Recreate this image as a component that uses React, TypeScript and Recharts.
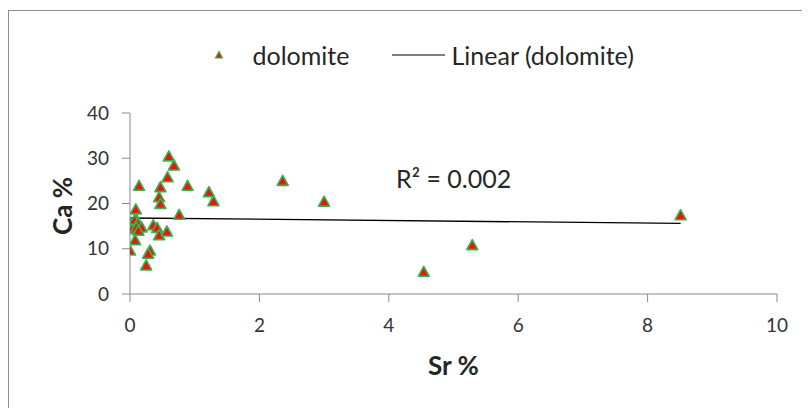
import React from 'react';
import { ScatterChart, Scatter, XAxis, YAxis, ReferenceLine, Customized } from 'recharts';

const srValues = [0.60, 0.68, 0.58, 0.14, 0.47, 0.89, 0.45, 0.47, 1.22, 1.29, 0.09, 0.76, 0.10, 0.00, 0.07, 0.12, 0.03, 0.10, 0.18, 0.13, 0.36, 0.42, 0.45, 0.57, 0.08, 0.00, 0.31, 0.28, 0.25, 2.36, 3.00, 4.54, 5.29, 8.51];
const caValues = [30.3, 28.3, 25.7, 23.8, 23.5, 23.8, 21.3, 19.8, 22.4, 20.4, 18.6, 17.4, 16.3, 15.6, 16.2, 15.5, 14.2, 14.6, 14.6, 13.9, 15.1, 14.5, 12.9, 13.7, 11.8, 9.5, 9.5, 8.8, 6.2, 24.9, 20.3, 4.8, 10.7, 17.3];
const trendX = [0, 8.51];
const trendY = [16.8, 15.6];
const xTicks = [0, 2, 4, 6, 8, 10];
const yTicks = [0, 10, 20, 30, 40];
const seriesName = 'dolomite';
const trendName = 'Linear (dolomite)';
const r2Label = 'R² = 0.002';

const points = srValues.map((x, i) => ({ x, y: caValues[i] }));

const FONT = 'Lato, "Open Sans", sans-serif';
const RED = '#e8160c';
const GREEN = '#35b54f';
const AXIS = '#8a8a8a';

const Triangle = (props: any) => {
  const { cx, cy } = props;
  if (cx == null || cy == null) return null;
  return (
    <polygon
      points={`${cx},${cy - 6} ${cx + 5.5},${cy + 4} ${cx - 5.5},${cy + 4}`}
      fill={RED}
      stroke={GREEN}
      strokeWidth={1.6}
      strokeLinejoin="round"
    />
  );
};

const Overlay = () => (
  <g fontFamily={FONT}>
    <polygon points="211,43.5 214.5,50 207.5,50" fill={RED} stroke={GREEN} strokeWidth={1.2} />
    <text x={244.5} y={57} fontSize={25} fill="#262626">{seriesName}</text>
    <line x1={384} y1={47} x2={437} y2={47} stroke="#000" strokeWidth={1.2} />
    <text x={443.5} y={57} fontSize={25} fill="#262626">{trendName}</text>
    <text x={388} y={180} fontSize={25} fill="#262626">{r2Label}</text>
    <text x={445.5} y={367} fontSize={26} fontWeight="bold" textAnchor="middle" fill="#262626">Sr %</text>
    <text transform="translate(64,198) rotate(-90)" fontSize={26} fontWeight="bold" textAnchor="middle" fill="#262626">Ca %</text>
  </g>
);

export default function App() {
  return (
    <div style={{ position: 'relative', width: 800, height: 400, overflow: 'hidden' }}>
      <div
        style={{
          position: 'absolute',
          left: 0,
          top: 2,
          width: 900,
          height: 600,
          border: '1px solid #8c8c8c',
          boxSizing: 'border-box',
        }}
      />
      <div style={{ position: 'absolute', left: 0, top: 0 }}>
        <ScatterChart width={800} height={400} margin={{ top: 105, right: 31, left: 62, bottom: 74 }}>
          <XAxis
            type="number"
            dataKey="x"
            domain={[0, 10]}
            ticks={xTicks}
            allowDataOverflow
            height={40}
            stroke={AXIS}
            tickSize={8}
            tickMargin={17}
            tick={{ fill: '#333', fontSize: 19, fontFamily: FONT }}
          />
          <YAxis
            type="number"
            dataKey="y"
            domain={[0, 40]}
            ticks={yTicks}
            allowDataOverflow
            width={60}
            stroke={AXIS}
            tickSize={8}
            tickMargin={13}
            tick={{ fill: '#333', fontSize: 19, fontFamily: FONT }}
          />
          <Scatter data={points} shape={<Triangle />} isAnimationActive={false} />
          <ReferenceLine
            segment={[
              { x: trendX[0], y: trendY[0] },
              { x: trendX[1], y: trendY[1] },
            ]}
            stroke="#000"
            strokeWidth={1.3}
            ifOverflow="visible"
          />
          <Customized component={Overlay} />
        </ScatterChart>
      </div>
    </div>
  );
}
